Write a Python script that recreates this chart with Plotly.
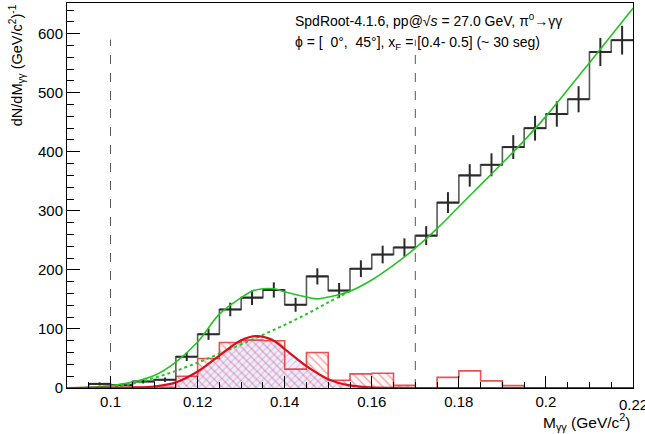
import plotly.graph_objects as go

# ---------------- data ----------------
bin_lo = [0.090, 0.095, 0.100, 0.105, 0.110, 0.115, 0.120, 0.125, 0.130, 0.135,
          0.140, 0.145, 0.150, 0.155, 0.160, 0.165, 0.170, 0.175, 0.180, 0.185,
          0.190, 0.195, 0.200, 0.205, 0.210, 0.215]
bin_width = 0.005
data_counts = [0, 7, 5, 11, 14, 53, 91, 133, 153, 166, 141, 189, 165, 202, 226, 238,
               258, 314, 360, 378, 408, 440, 464, 489, 569, 589]
data_errors = [0, 2.6, 2.2, 3.3, 3.7, 7.3, 9.5, 11.5, 12.4, 12.9, 11.9, 13.7, 12.8, 14.2,
               15.0, 15.4, 16.1, 17.7, 19.0, 19.4, 20.2, 21.0, 21.5, 22.1, 23.9, 24.3]
signal_counts = [0, 0, 0, 1, 1, 20, 50, 77, 81, 80, 32, 60, 13, 24, 25, 4.5,
                 0, 18, 29, 12, 4, 0, 0, 0, 0, 0]
window_lo, window_hi = 0.10, 0.17
cut_top = 590

fit_x = [0.090, 0.095, 0.100, 0.105, 0.110, 0.115, 0.120, 0.125, 0.130, 0.1325, 0.135,
         0.1375, 0.140, 0.145, 0.1475, 0.150, 0.155, 0.160, 0.165, 0.170, 0.175, 0.180,
         0.185, 0.190, 0.195, 0.200, 0.205, 0.210, 0.215, 0.220]
fit_total = [0, 1, 4, 10, 21, 44, 78, 125, 153, 164, 168, 168, 163, 154, 151, 154, 164,
             183, 208, 237, 270, 307, 344, 381, 419, 460, 505, 551, 597, 643]

bkg_x = [0.090, 0.095, 0.100, 0.105, 0.110, 0.115, 0.120, 0.125, 0.130, 0.135, 0.140,
         0.145, 0.150, 0.155]
bkg_y = [0, 0.5, 2, 7, 17, 29, 43, 58, 74, 90, 107, 125, 145, 164]

sig_x = [0.090, 0.100, 0.105, 0.110, 0.115, 0.120, 0.125, 0.130, 0.1335, 0.137, 0.140,
         0.145, 0.150, 0.155, 0.160, 0.165, 0.170, 0.220]
sig_y = [0, 0.5, 1, 2.5, 9.5, 28, 55, 81, 88, 82, 66, 37, 15, 4.4, 1, 0.2, 0, 0]

x_tickvals = [0.10, 0.12, 0.14, 0.16, 0.18, 0.20]
x_ticktext = ["0.1", "0.12", "0.14", "0.16", "0.18", "0.2"]
x_edge_tick = 0.22
x_edge_label = "0.22"
y_tickvals = [0, 100, 200, 300, 400, 500, 600]

x_range = [0.09, 0.22]
y_range = [0, 652]

# ---------------- derived ----------------
centers = [b + bin_width / 2 for b in bin_lo]
step_x = bin_lo + [bin_lo[-1] + bin_width]
step_data = data_counts + [data_counts[-1]]
step_sig = signal_counts + [signal_counts[-1]]
in_win = [window_lo - 1e-9 <= b and b + bin_width <= window_hi + 1e-9 for b in bin_lo]
win_x = [c for c, w in zip(centers, in_win) if w]
win_y = [v for v, w in zip(signal_counts, in_win) if w]

FONT = "Liberation Sans, Arial, Helvetica, sans-serif"

fig = go.Figure()

# blue hatched area under signal fit
fig.add_trace(go.Scatter(
    x=sig_x, y=sig_y, mode="lines", line=dict(width=0, shape="spline"),
    fill="tozeroy", fillcolor="rgba(150,140,235,0.15)",
    fillpattern=dict(shape="/", fgcolor="rgba(80,80,235,0.55)",
                     bgcolor="rgba(200,190,245,0.25)", size=5, solidity=0.2),
    hoverinfo="skip", showlegend=False))

# red hatched signal bars inside the window
fig.add_trace(go.Bar(
    x=win_x, y=win_y, width=bin_width,
    marker=dict(color="rgba(235,90,90,0.7)", line=dict(width=0),
                pattern=dict(shape="\\", fgcolor="rgba(235,90,90,0.6)",
                             bgcolor="rgba(255,220,220,0.2)", size=6,
                             solidity=0.2, fillmode="replace")),
    hoverinfo="skip", showlegend=False))

# red signal histogram outline
fig.add_trace(go.Scatter(
    x=step_x, y=step_sig, mode="lines",
    line=dict(color="rgba(225,40,40,0.8)", width=1.6, shape="hv"),
    hoverinfo="skip", showlegend=False))

# data histogram steps
fig.add_trace(go.Scatter(
    x=step_x, y=step_data, mode="lines",
    line=dict(color="#5a5a5a", width=1.6, shape="hv"),
    hoverinfo="skip", showlegend=False))

# data error crosses
fig.add_trace(go.Scatter(
    x=centers, y=data_counts, mode="markers",
    marker=dict(size=1, color="rgba(0,0,0,0)"),
    error_x=dict(type="constant", value=bin_width / 2, width=0, thickness=2, color="#2a2a2a"),
    error_y=dict(type="data", array=data_errors, width=0, thickness=2, color="#2a2a2a"),
    hoverinfo="skip", showlegend=False))

# background (dotted green)
fig.add_trace(go.Scatter(
    x=bkg_x, y=bkg_y, mode="lines",
    line=dict(color="#22c422", width=2, dash="dot", shape="spline"),
    hoverinfo="skip", showlegend=False))

# total fit (green)
fig.add_trace(go.Scatter(
    x=fit_x, y=fit_total, mode="lines",
    line=dict(color="#22c422", width=1.6, shape="spline"),
    hoverinfo="skip", showlegend=False))

# signal fit (red)
fig.add_trace(go.Scatter(
    x=sig_x, y=sig_y, mode="lines",
    line=dict(color="#d8101c", width=2.2, shape="spline"),
    hoverinfo="skip", showlegend=False))

# window dashed lines
for xc in (window_lo, window_hi):
    fig.add_trace(go.Scatter(
        x=[xc, xc], y=[0, cut_top], mode="lines",
        line=dict(color="#555555", width=1, dash="dash"),
        hoverinfo="skip", showlegend=False))

axis_common = dict(
    showgrid=False, zeroline=False, showline=True, linecolor="black", linewidth=1,
    mirror=True, ticks="inside", tickcolor="black", tickwidth=1,
    tickfont=dict(family=FONT, size=15, color="black"),
    tickangle=0,
)

fig.update_xaxes(
    range=x_range, tickmode="array", tickvals=x_tickvals, ticktext=x_ticktext, ticklen=12,
    minor=dict(dtick=bin_width, tick0=0.1, ticks="inside", ticklen=6, tickcolor="black"),
    **axis_common)
fig.update_yaxes(
    range=y_range, tickmode="array", tickvals=y_tickvals, ticklen=13,
    minor=dict(dtick=20, tick0=0, ticks="inside", ticklen=7, tickcolor="black"),
    **axis_common)

# last x tick label at the frame edge (cut by the window like in the reference)
fig.add_annotation(
    xref="x", yref="paper", x=x_edge_tick, y=-0.042, xanchor="center", yanchor="middle",
    text=x_edge_label, showarrow=False, borderpad=0,
    font=dict(family=FONT, size=15, color="black"))

fig.add_annotation(
    xref="paper", yref="paper", x=-0.088, y=1.0, xanchor="center", yanchor="top",
    text="dN/dM<sub>γγ</sub> (GeV/c<sup>2</sup>)<sup>-1</sup>", textangle=-90,
    showarrow=False, borderpad=0, font=dict(family=FONT, size=14.5, color="black"))
fig.add_annotation(
    xref="paper", yref="paper", x=0.998, y=-0.089, xanchor="right", yanchor="middle",
    text="M<sub>γγ</sub> (GeV/c<sup>2</sup>)",
    showarrow=False, borderpad=0, font=dict(family=FONT, size=15.5, color="black"))

fig.add_annotation(
    xref="x", yref="paper", x=0.1418, y=0.957, xanchor="left", yanchor="middle",
    text="SpdRoot-4.1.6, pp@√<i>s</i> = 27.0 GeV, π<sup>0</sup>→γγ",
    showarrow=False, font=dict(family=FONT, size=14, color="black"))
fig.add_annotation(
    xref="x", yref="paper", x=0.1418, y=0.897, xanchor="left", yanchor="middle",
    text="ϕ = [  0°,  45°], x<sub>F</sub> = [0.4- 0.5] (~ 30 seg)",
    showarrow=False, font=dict(family=FONT, size=14, color="black"))

fig.update_layout(
    width=645, height=434,
    margin=dict(l=67, r=12, t=3, b=46),
    paper_bgcolor="white", plot_bgcolor="white",
    barmode="overlay", bargap=0,
    showlegend=False,
    font=dict(family=FONT),
)

fig.write_html("out.html")
